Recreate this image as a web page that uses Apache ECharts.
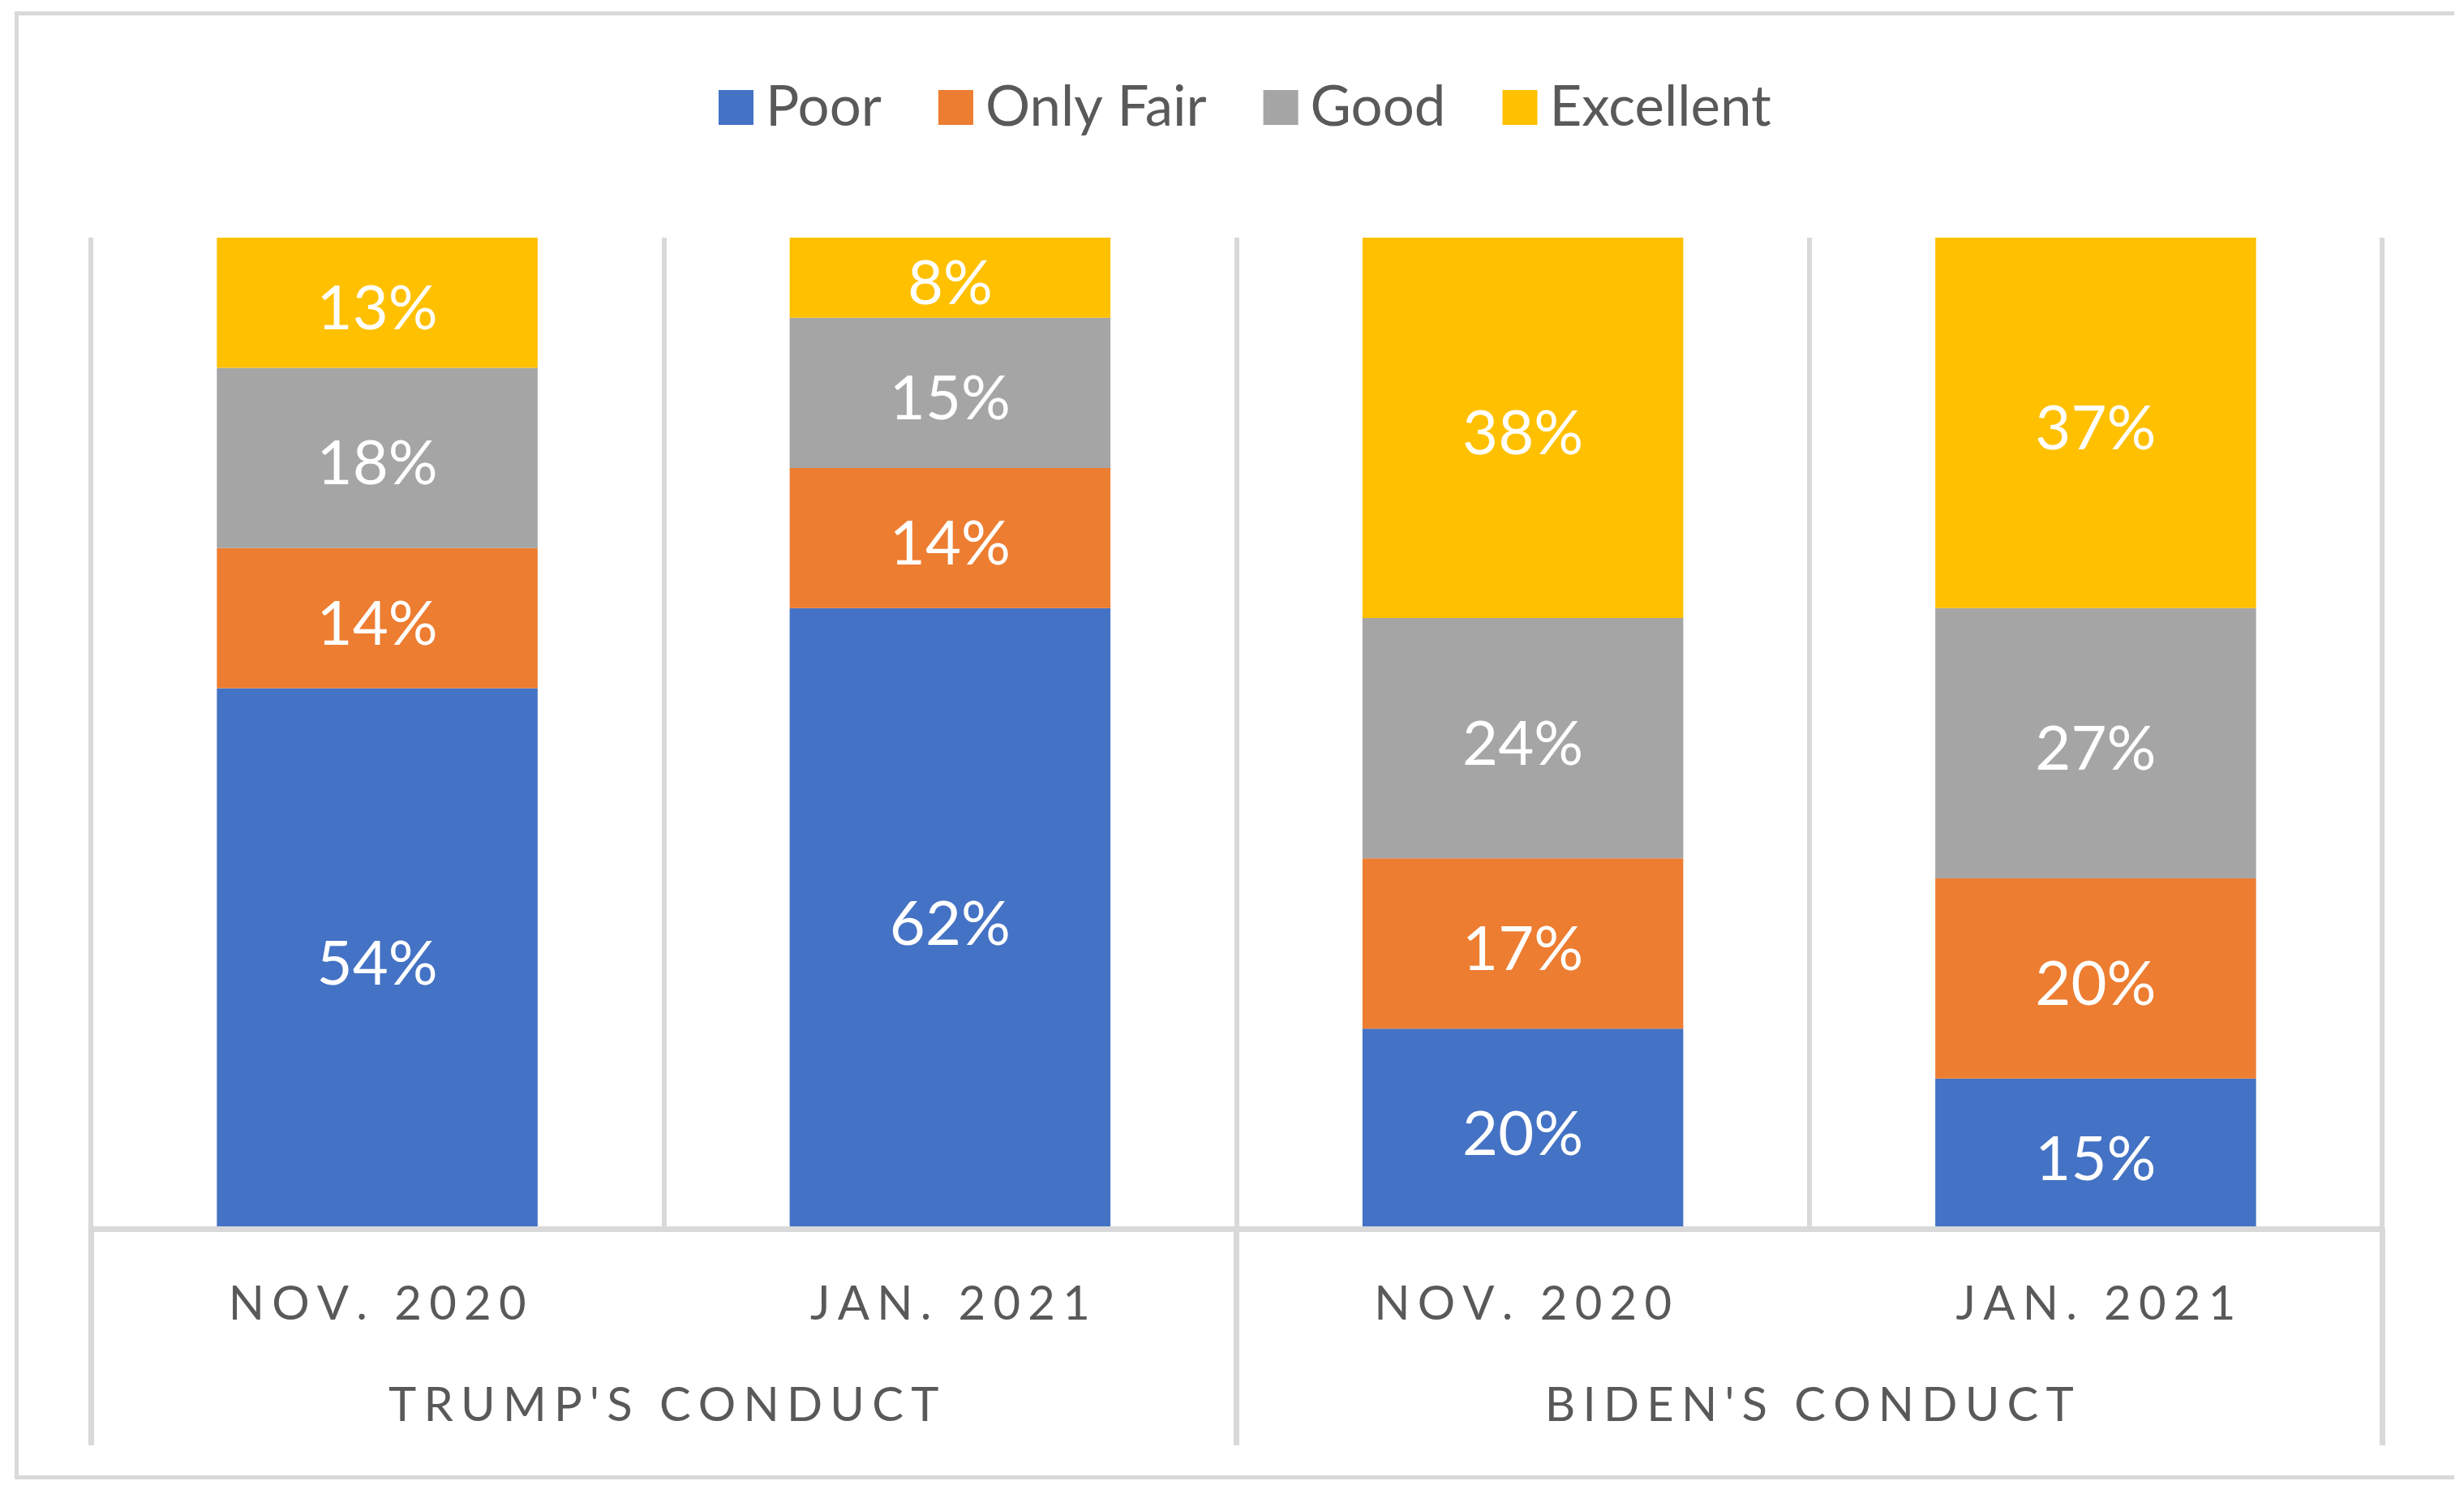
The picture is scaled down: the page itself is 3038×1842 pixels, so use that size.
<!DOCTYPE html>
<html>
<head>
<meta charset="utf-8">
<script src="https://cdn.jsdelivr.net/npm/echarts@6/dist/echarts.min.js"></script>
<style>
html,body{margin:0;padding:0;background:#fff;}
#chart{width:3038px;height:1842px;}
</style>
</head>
<body>
<div id="chart"></div>
<script>
// ---- data ----
const periods = ["NOV. 2020", "JAN. 2021", "NOV. 2020", "JAN. 2021"];
const groups = ["TRUMP'S CONDUCT", "BIDEN'S CONDUCT"];
const seriesNames = ["Poor", "Only Fair", "Good", "Excellent"];
const poor = [54, 62, 20, 15];
const onlyFair = [14, 14, 17, 20];
const good = [18, 15, 24, 27];
const excellent = [13, 8, 38, 37];

const colors = ["#4472C4", "#ED7D31", "#A5A5A5", "#FFC000"];
const values = [poor, onlyFair, good, excellent];
const FONT = "Lato";
// letter-spaced label: small rich-text spaces between characters
const spaced = s => s.split('').join('{s| }');
const spaceRich = {s: {fontFamily: FONT, fontSize: 36}};

const chart = echarts.init(document.getElementById('chart'), null, {renderer: 'canvas'});

const series = seriesNames.map((name, i) => ({
  name: name,
  type: 'bar',
  stack: 'total',
  xAxisIndex: 0,
  barWidth: '56%',
  itemStyle: {color: colors[i]},
  label: {
    show: true,
    position: 'inside',
    offset: [0, 8],
    color: '#ffffff',
    fontFamily: FONT,
    fontSize: 76,
    formatter: p => p.value + '%'
  },
  emphasis: {disabled: true},
  data: values[i]
}));

chart.setOption({
  animation: false,
  backgroundColor: '#ffffff',
  color: colors,
  legend: {
    data: seriesNames,
    left: 881,
    top: 93,
    icon: 'rect',
    itemWidth: 43,
    itemHeight: 43,
    itemGap: 70,
    textStyle: {
      fontFamily: FONT,
      fontSize: 69,
      color: '#595959',
      padding: [0, 0, 0, 10]
    }
  },
  grid: {left: 112, right: 101, top: 293, bottom: 327, containLabel: false},
  xAxis: [
    {
      type: 'category',
      data: periods,
      position: 'bottom',
      axisLine: {show: true, lineStyle: {color: '#D9D9D9', width: 7}},
      axisTick: {show: false},
      splitLine: {show: true, interval: 0, lineStyle: {color: '#D9D9D9', width: 6}},
      axisLabel: {
        interval: 0,
        hideOverlap: false,
        fontFamily: FONT,
        fontSize: 58,
        color: '#595959',
        margin: 64,
        formatter: v => spaced(v),
        rich: spaceRich
      },
      z: 3
    },
    {
      type: 'category',
      data: groups,
      position: 'bottom',
      axisLine: {show: false},
      axisTick: {show: true, interval: 0, length: 267, lineStyle: {color: '#D9D9D9', width: 7}},
      splitLine: {show: false},
      axisLabel: {
        interval: 0,
        hideOverlap: false,
        fontFamily: FONT,
        fontSize: 58,
        color: '#595959',
        margin: 189,
        formatter: v => spaced(v),
        rich: spaceRich
      }
    }
  ],
  yAxis: {
    type: 'value',
    min: 0,
    max: 99,
    show: false,
    splitLine: {show: false}
  },
  graphic: [
    {
      type: 'polyline',
      shape: {points: [[3026, 16.5], [20.5, 16.5], [20.5, 1821.5], [3026, 1821.5]]},
      style: {stroke: '#D9D9D9', lineWidth: 5, fill: null},
      silent: true
    }
  ],
  series: series
});
</script>
</body>
</html>
